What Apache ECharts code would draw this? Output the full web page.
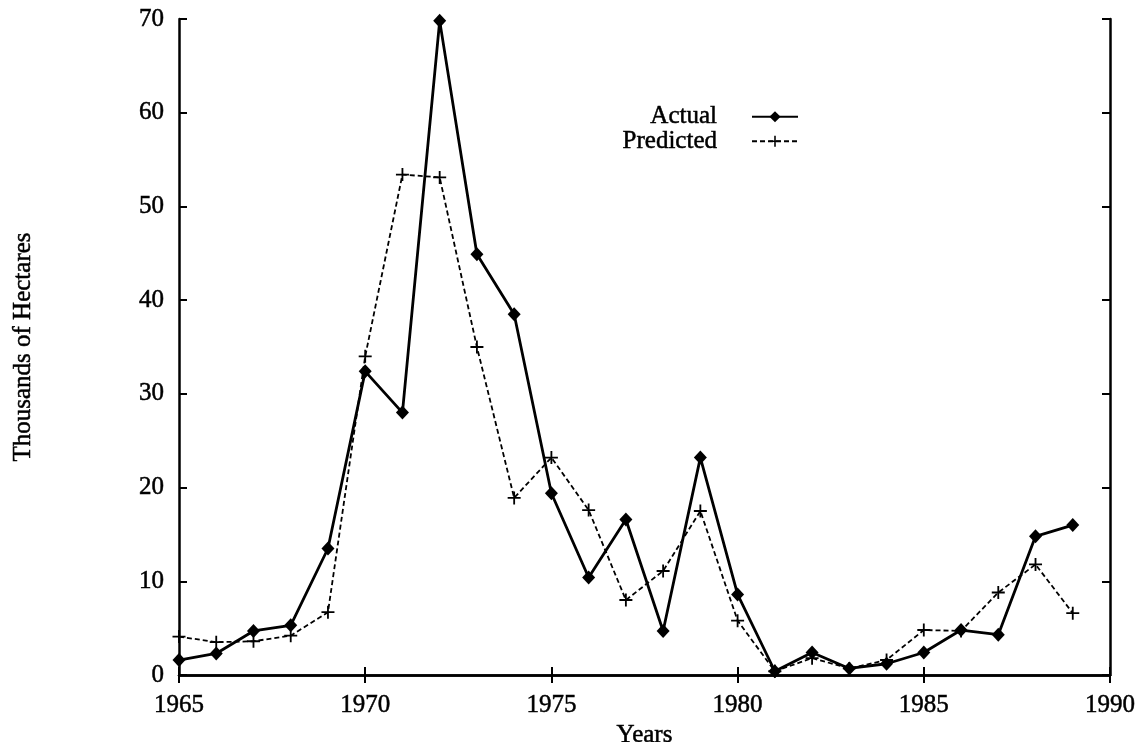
<!DOCTYPE html>
<html>
<head>
<meta charset="utf-8">
<script src="https://cdn.jsdelivr.net/npm/echarts@6/dist/echarts.min.js"></script>
<style>
html, body { margin: 0; padding: 0; background: #fff; }
#chart { width: 1144px; height: 742px; }
</style>
</head>
<body>
<div id="chart"></div>
<script>
var years = [1965, 1966, 1967, 1968, 1969, 1970, 1971, 1972, 1973, 1974, 1975, 1976, 1977,
             1978, 1979, 1980, 1981, 1982, 1983, 1984, 1985, 1986, 1987, 1988, 1989];
var actual = [1.6, 2.3, 4.7, 5.3, 13.5, 32.4, 28.0, 69.8, 44.9, 38.5, 19.4, 10.4, 16.6,
              4.7, 23.2, 8.6, 0.4, 2.4, 0.7, 1.2, 2.4, 4.8, 4.3, 14.8, 16.0];
var predicted = [4.1, 3.5, 3.6, 4.2, 6.7, 34.0, 53.4, 53.1, 35.0, 18.9, 23.2, 17.6, 8.0,
                 11.1, 17.5, 5.8, 0.4, 1.8, 0.7, 1.6, 4.8, 4.7, 8.8, 11.8, 6.6];

function pairs(vals) {
    return years.map(function (y, i) { return [y, vals[i]]; });
}

var font = '"Liberation Serif", "Times New Roman", serif';
var plus = 'path://M4.3,0 H5.7 V4.3 H10 V5.7 H5.7 V10 H4.3 V5.7 H0 V4.3 H4.3 Z';
// scanned print looks heavy, so give the text a thin outline
var txt = { fontFamily: font, fontSize: 25, color: '#000', textBorderColor: '#000', textBorderWidth: 0.5 };

var myChart = echarts.init(document.getElementById('chart'));
var option = {
    backgroundColor: '#fff',
    animation: false,
    textStyle: { fontFamily: font, color: '#000' },
    grid: { left: 179, right: 34, top: 19, bottom: 67, outerBoundsMode: 'none', containLabel: false },
    legend: {
        orient: 'vertical',
        align: 'right',
        right: 340,
        top: 99,
        itemWidth: 46,
        itemHeight: 14,
        itemGap: -1,
        textStyle: Object.assign({}, txt, { lineHeight: 24, padding: [0, 30, 0, 0] }),
        data: ['Actual', 'Predicted']
    },
    xAxis: [{
        type: 'value',
        min: 1965, max: 1990, interval: 5,
        name: 'Years',
        nameLocation: 'middle',
        nameGap: 33,
        nameTextStyle: txt,
        axisLine: { show: true, lineStyle: { color: '#000', width: 2.5 } },
        axisTick: { show: true, inside: true, length: 8, lineStyle: { color: '#000', width: 2 } },
        axisLabel: Object.assign({ margin: 18, formatter: function (v) { return String(v); } }, txt),
        splitLine: { show: false }
    }, {
        type: 'value',
        position: 'top',
        min: 1965, max: 1990, interval: 5,
        axisLine: { show: true, lineStyle: { color: '#000', width: 2.5 } },
        axisTick: { show: true, inside: true, length: 8, lineStyle: { color: '#000', width: 2 } },
        axisLabel: { show: false },
        splitLine: { show: false }
    }],
    yAxis: [{
        type: 'value',
        min: 0, max: 70, interval: 10,
        name: 'Thousands of Hectares',
        nameLocation: 'middle',
        nameGap: 143,
        nameRotate: 90,
        nameTextStyle: txt,
        axisLine: { show: true, lineStyle: { color: '#000', width: 2.5 } },
        axisTick: { show: true, inside: true, length: 8, lineStyle: { color: '#000', width: 2 } },
        axisLabel: Object.assign({ margin: 15 }, txt),
        splitLine: { show: false }
    }, {
        type: 'value',
        position: 'right',
        min: 0, max: 70, interval: 10,
        axisLine: { show: true, lineStyle: { color: '#000', width: 2.5 } },
        axisTick: { show: true, inside: true, length: 8, lineStyle: { color: '#000', width: 2 } },
        axisLabel: { show: false },
        splitLine: { show: false }
    }],
    series: [{
        name: 'Actual',
        type: 'line',
        data: pairs(actual),
        symbol: 'diamond',
        symbolSize: [13, 14],
        color: '#000',
        itemStyle: { color: '#000' },
        lineStyle: { color: '#000', width: 2.8 },
        z: 3
    }, {
        name: 'Predicted',
        type: 'line',
        data: pairs(predicted),
        symbol: plus,
        symbolSize: 13,
        color: '#000',
        itemStyle: { color: '#000' },
        lineStyle: { color: '#000', width: 1.8, type: [5, 3] },
        z: 2
    }]
};
myChart.setOption(option);
</script>
</body>
</html>
